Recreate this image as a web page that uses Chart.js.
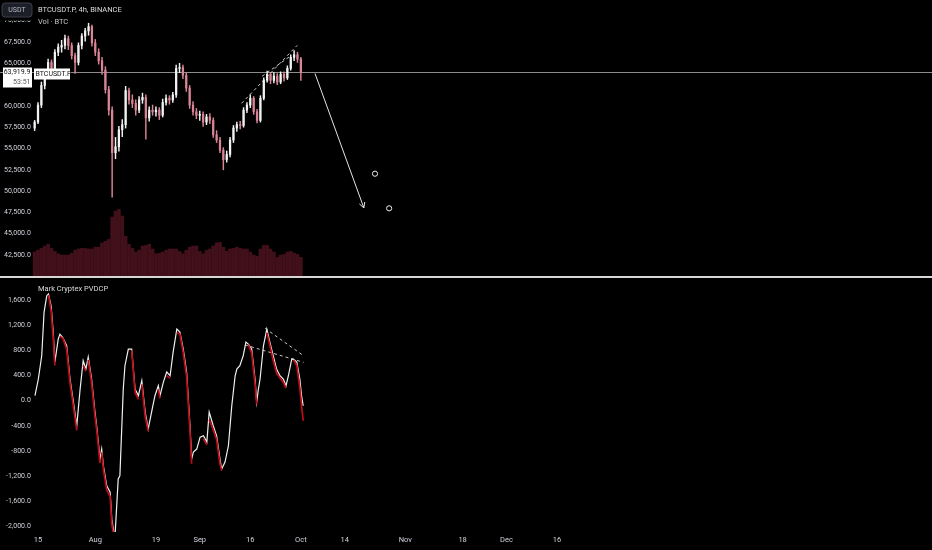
<!DOCTYPE html>
<html>
<head>
<meta charset="utf-8">
<script src="https://cdn.jsdelivr.net/npm/chart.js@4.4.1/dist/chart.umd.min.js"></script>
<style>
    html, body { margin: 0; padding: 0; background: #000; }
    #wrap { position: relative; width: 932px; height: 550px; overflow: hidden; }
    #top { position: absolute; left: 0; top: 0; width: 932px; height: 276px; }
    #sep { position: absolute; left: 0; top: 276px; width: 932px; height: 2px; background: #d6d6d6; }
    #bottom { position: absolute; left: 0; top: 278px; width: 932px; height: 272px; }
</style>
</head>
<body>
<div id="wrap">
    <div id="top"><canvas id="priceChart"></canvas></div>
    <div id="sep"></div>
    <div id="bottom"><canvas id="pvdcpChart"></canvas></div>
</div>
<script>
// day 0 = Jul 15, one candle per day starting Jul 14
const firstCandleDay = -1;
const dateTicks = [0, 17, 35, 48, 63, 78, 91, 109, 126, 139, 154];
const dateLabels = ['15', 'Aug', '19', 'Sep', '16', 'Oct', '14', 'Nov', '18', 'Dec', '16'];
const priceTicks = [70000, 67500, 65000, 62500, 60000, 57500, 55000, 52500, 50000, 47500, 45000, 42500];
const pvdcpTicks = [1600, 1200, 800, 400, 0, -400, -800, -1200, -1600, -2000];

const opens = [57400, 58100, 60100, 62400, 63900, 65100, 64400, 66300, 66900, 67100,
    67900, 67100, 65900, 65100, 67100, 68200, 68800, 69300, 67400, 66300,
    65300, 64200, 61900, 59500, 54500, 55200, 57200, 57800, 61800, 60700,
    60300, 59500, 60700, 61000, 58600, 59500, 59300, 59500, 58900, 60400,
    60900, 60700, 61300, 64400, 64500, 63600, 62100, 60100, 59300, 58900,
    59000, 58100, 58700, 58300, 56600, 56000, 54800, 53700, 54300, 56000,
    57400, 57800, 57700, 59500, 60100, 60900, 59300, 58300, 60900, 63000,
    63700, 63000, 63500, 62800, 63700, 63300, 64400, 65700, 66000, 65500];
const highs = [58300, 60400, 62800, 64300, 65500, 65400, 66600, 67300, 67700, 68300,
    68200, 67400, 66200, 67400, 68500, 69100, 69700, 69500, 67800, 66700,
    65700, 64600, 62300, 59900, 56300, 57600, 58400, 62300, 62100, 61300,
    60700, 61100, 61500, 61300, 59900, 60100, 59900, 59800, 60800, 61300,
    61200, 61600, 64800, 65000, 64800, 63900, 62400, 60500, 59700, 59400,
    59300, 59000, 59100, 58600, 57100, 56300, 55100, 54700, 56300, 57700,
    58100, 58200, 59800, 60400, 61300, 61100, 59600, 61200, 63300, 64100,
    63900, 63900, 63800, 64000, 64000, 64700, 66000, 66500, 66300, 65700];
const lows = [57100, 57900, 59800, 62000, 63500, 63800, 64100, 65900, 66300, 66700,
    66600, 65500, 63800, 64800, 66700, 67600, 68300, 67000, 65900, 64900,
    63700, 61500, 58900, 49300, 53800, 54700, 56400, 57400, 60200, 59800,
    58900, 59200, 60300, 56100, 58200, 58900, 58800, 58400, 58700, 60100,
    60200, 60400, 61000, 63900, 63200, 61700, 59700, 58900, 58500, 58300,
    57600, 57800, 57900, 56300, 55700, 54500, 52500, 53400, 54000, 55700,
    57000, 57300, 57500, 59200, 59800, 59000, 58000, 58100, 60700, 62800,
    62600, 62700, 62500, 62600, 62900, 63100, 64200, 65300, 65100, 63000];
const closes = [58100, 60100, 62400, 63900, 65100, 64400, 66300, 66900, 67100, 67900,
    67100, 65900, 65100, 67100, 68200, 68800, 69300, 67400, 66300, 65300,
    64200, 61900, 59500, 54500, 55200, 57200, 57800, 61800, 60700, 60300,
    59500, 60700, 61000, 58600, 59500, 59300, 59500, 58900, 60400, 60900,
    60700, 61300, 64400, 64500, 63600, 62100, 60100, 59300, 58900, 59000,
    58100, 58700, 58300, 56600, 56000, 54800, 53700, 54300, 56000, 57400,
    57800, 57700, 59500, 60100, 60900, 59300, 58300, 60900, 63000, 63700,
    63000, 63500, 62800, 63700, 63300, 64400, 65700, 66000, 65500, 63919.9];
// K BTC
const volumes = [40, 43, 46, 50, 53, 46, 41, 37, 35, 35, 35, 38, 43, 45, 46, 46, 45, 45, 48, 48,
    55, 58, 61, 98, 108, 111, 100, 66, 53, 46, 40, 43, 50, 51, 53, 45, 37, 38, 40, 43,
    45, 45, 45, 41, 37, 43, 48, 50, 50, 41, 37, 43, 45, 50, 55, 56, 48, 41, 45, 46,
    48, 46, 45, 45, 40, 35, 33, 45, 51, 51, 45, 40, 31, 35, 36, 40, 41, 38, 36, 31];
const lastPrice = 63919.9;
const countdown = '53:51';

// drawings on the price pane
const channelUpper = [{x: 60.4, y: 60300}, {x: 76.9, y: 67100}];
const channelLower = [{x: 66.5, y: 63480}, {x: 74.8, y: 65820}];
const arrowPath = [{x: 82.2, y: 63800}, {x: 96.7, y: 48030}];
const targetCircles = [{x: 100, y: 52040}, {x: 104.2, y: 47980}];

// Mark Cryptex PVDCP
const pvdcpDays = [-0.9, 0.1, 1.1, 1.8, 2.6, 3.1, 3.9, 4.5, 5.0, 6.0, 6.5, 7.4, 8.5, 9.5, 10.5, 11.5,
    12.5, 13.4, 14.2, 14.9, 15.9, 16.9, 17.4, 18.4, 18.9, 19.4, 20.4, 21.4, 21.9, 22.8, 23.8, 24.3,
    25.3, 25.8, 26.8, 27.8, 28.8, 29.8, 30.8, 31.8, 32.7, 33.7, 34.7, 35.7, 36.2, 37.2, 38.2, 39.2,
    40.1, 41.2, 42.1, 43.1, 44.1, 45.1, 45.6, 46.1, 47.1, 48.1, 49.1, 50.1, 50.8, 52.0, 53.0, 54.0,
    54.5, 55.5, 56.5, 57.5, 58.5, 59.0, 59.9, 60.9, 61.7, 62.4, 63.4, 64.4, 64.9, 65.4, 65.9, 66.9,
    67.9, 68.8, 69.8, 70.8, 71.8, 72.8, 73.6, 74.3, 75.3, 75.8, 76.8, 77.7, 78.2, 78.7];
const pvdcpFast = [80, 345, 715, 1408, 1667, 1694, 1500, 1100, 614, 980, 1058, 1000, 873, 345, -20, -397,
    186, 636, 504, 694, 345, -180, -397, -926, -767, -1032, -1350, -1451, -1880, -2200, -1243, -1191,
    186, 556, 821, 821, 186, 80, 318, -180, -450, -180, 80, 238, 80, 296, 456, 397,
    771, 1139, 1090, 821, 456, -397, -926, -815, -767, -578, -556, -656, -180, -397, -556, -926,
    -1085, -974, -715, -80, 397, 503, 556, 715, 932, 900, 821, 345, -20, 186, 345, 873,
    1139, 932, 715, 503, 397, 345, 238, 397, 662, 662, 614, 345, 80, -80];
const pvdcpSlow = [20, 260, 620, 1250, 1560, 1680, 1420, 1000, 560, 900, 1020, 990, 820, 280, -90, -470,
    80, 560, 470, 650, 280, -250, -460, -990, -820, -1090, -1420, -1520, -1960, -2250, -1400, -1250,
    50, 480, 790, 800, 130, 20, 260, -250, -480, -260, 10, 180, 40, 230, 400, 360,
    680, 1080, 1060, 760, 380, -480, -1000, -870, -800, -640, -600, -700, -300, -460, -620, -1000,
    -1110, -1050, -800, -200, 320, 460, 520, 660, 880, 890, 760, 270, -60, 80, 280, 760,
    1080, 880, 640, 440, 360, 290, 200, 320, 600, 650, 560, 200, -80, -318];
const pvdcpTrendA = [{x: 61.5, y: 885}, {x: 78.8, y: 610}];
const pvdcpTrendB = [{x: 67.4, y: 1150}, {x: 78.8, y: 715}];

const xMin = -11.28;
const xMax = 265.3;
const FONT = 'Roboto, "Liberation Sans", sans-serif';
const TEXT = '#d1d4dc';
const upColor = '#f2f2f2';
const downColor = '#d98596';
const RED = '#c00c16';

const fmt = v => v.toLocaleString('en-US', {minimumFractionDigits: 1, maximumFractionDigits: 1});
const candleX = opens.map((_, i) => firstCandleDay + i);
const candleColors = opens.map((o, i) => closes[i] >= o ? upColor : downColor);

function leftAxis(min, max, tickList, pad) {
    return {
        position: 'left', min: min, max: max,
        grid: {display: false, drawTicks: false}, border: {display: false},
        ticks: {mirror: true, crossAlign: 'far', padding: pad, color: TEXT, font: {family: FONT, size: 7}, callback: fmt},
        afterBuildTicks: s => { s.ticks = tickList.map(v => ({value: v})); },
        afterFit: s => { s.width = 0; s.paddingTop = 0; s.paddingBottom = 0; }
    };
}

// price pane overlays: header, price tags, arrow head
const priceOverlay = {
    id: 'priceOverlay',
    afterDatasetsDraw(chart) {
        const ctx = chart.ctx, xs = chart.scales.x, ys = chart.scales.y;
        ctx.save();
        // arrow head
        const x0 = xs.getPixelForValue(arrowPath[0].x), y0 = ys.getPixelForValue(arrowPath[0].y);
        const x1 = xs.getPixelForValue(arrowPath[1].x), y1 = ys.getPixelForValue(arrowPath[1].y);
        const a = Math.atan2(y1 - y0, x1 - x0);
        ctx.strokeStyle = '#e6e6e6';
        ctx.lineWidth = 1;
        ctx.beginPath();
        ctx.moveTo(x1 - 6 * Math.cos(a - 0.5), y1 - 6 * Math.sin(a - 0.5));
        ctx.lineTo(x1, y1);
        ctx.lineTo(x1 - 6 * Math.cos(a + 0.5), y1 - 6 * Math.sin(a + 0.5));
        ctx.stroke();
        ctx.restore();
    },
    afterDraw(chart) {
        const ctx = chart.ctx, ys = chart.scales.y;
        ctx.save();
        // legend strip hides the top half of the 70,000 label
        ctx.fillStyle = '#000';
        ctx.fillRect(0, 0, 36, 20.5);
        // currency box
        ctx.fillStyle = '#1c1f27';
        ctx.strokeStyle = '#3b3f4b';
        ctx.beginPath();
        ctx.roundRect(2, 3, 30, 14, 3);
        ctx.fill();
        ctx.stroke();
        ctx.fillStyle = '#b6bac4';
        ctx.font = '7px ' + FONT;
        ctx.textAlign = 'center';
        ctx.textBaseline = 'middle';
        ctx.fillText('USDT', 17, 10);
        // legend lines
        ctx.textAlign = 'left';
        ctx.fillStyle = '#dcdcdc';
        ctx.font = '7.5px ' + FONT;
        ctx.fillText('BTCUSDT.P, 4h, BINANCE', 38, 10);
        ctx.fillStyle = '#c4c4c4';
        ctx.fillText('Vol · BTC', 38, 22);
        // last price tag
        const py = ys.getPixelForValue(lastPrice);
        ctx.fillStyle = '#ffffff';
        ctx.fillRect(3, py - 5, 29, 20);
        ctx.fillRect(34, py - 4, 36, 11);
        ctx.fillStyle = '#111';
        ctx.textAlign = 'right';
        ctx.font = '7px ' + FONT;
        ctx.fillText(fmt(lastPrice), 30.5, py);
        ctx.fillStyle = '#555';
        ctx.fillText(countdown, 30.5, py + 9.5);
        ctx.fillStyle = '#111';
        ctx.textAlign = 'left';
        ctx.fillText('BTCUSDT.P', 35.5, py + 1.5);
        ctx.restore();
    }
};

new Chart(document.getElementById('priceChart'), {
    type: 'bar',
    data: {
        datasets: [
            {type: 'line', data: arrowPath, borderColor: '#e6e6e6', borderWidth: 1, pointRadius: 0},
            {type: 'line', data: targetCircles, showLine: false, pointRadius: 2.6, pointHoverRadius: 2.6, pointBorderWidth: 1,
                pointBorderColor: '#eeeeee', pointBackgroundColor: '#000'},
            {type: 'line', data: channelUpper, borderColor: 'rgba(235,235,235,0.85)', borderWidth: 1, borderDash: [3, 3], pointRadius: 0},
            {type: 'line', data: channelLower, borderColor: 'rgba(235,235,235,0.85)', borderWidth: 1, borderDash: [3, 3], pointRadius: 0},
            {data: candleX.map((x, i) => ({x: x, y: [opens[i], closes[i]]})), backgroundColor: candleColors,
                barThickness: 1.6, grouped: false},
            {data: candleX.map((x, i) => ({x: x, y: [lows[i], highs[i]]})), backgroundColor: candleColors,
                barThickness: 0.8, grouped: false},
            {type: 'line', data: [{x: xMin, y: lastPrice}, {x: xMax, y: lastPrice}], borderColor: '#8c8c8c',
                borderWidth: 1, pointRadius: 0},
            {data: candleX.map((x, i) => ({x: x, y: volumes[i]})), yAxisID: 'vol', backgroundColor: '#42101a',
                barThickness: 3, grouped: false}
        ]
    },
    options: {
        responsive: true,
        maintainAspectRatio: false,
        animation: false,
        layout: {padding: 0, autoPadding: false},
        plugins: {legend: {display: false}, tooltip: {enabled: false}},
        scales: {
            x: {type: 'linear', min: xMin, max: xMax, offset: false, display: false},
            y: leftAxis(40035, 72430, priceTicks, 4),
            vol: {min: 0, max: 460, display: false}
        }
    },
    plugins: [priceOverlay]
});

const pvdcpTitle = {
    id: 'pvdcpTitle',
    afterDraw(chart) {
        const ctx = chart.ctx;
        ctx.save();
        ctx.fillStyle = '#dcdcdc';
        ctx.font = '7.5px ' + FONT;
        ctx.textBaseline = 'middle';
        ctx.fillText('Mark Cryptex PVDCP', 38, 11);
        ctx.restore();
    }
};

new Chart(document.getElementById('pvdcpChart'), {
    type: 'line',
    data: {
        datasets: [
            // slow line shows red on falling stretches only
            {data: pvdcpDays.map((x, i) => ({x: x, y: pvdcpSlow[i]})), borderColor: RED, borderWidth: 1.7,
                segment: {borderColor: c => c.p1.parsed.y < c.p0.parsed.y ? RED : 'rgba(0,0,0,0)'}},
            {data: pvdcpDays.map((x, i) => ({x: x, y: pvdcpFast[i]})), borderColor: '#f0f0f0', borderWidth: 1.2},
            {data: pvdcpTrendA, borderColor: 'rgba(235,235,235,0.85)', borderWidth: 1, borderDash: [3, 3]},
            {data: pvdcpTrendB, borderColor: 'rgba(235,235,235,0.85)', borderWidth: 1, borderDash: [3, 3]}
        ]
    },
    options: {
        responsive: true,
        maintainAspectRatio: false,
        animation: false,
        layout: {padding: 0, autoPadding: false},
        elements: {point: {radius: 0, hoverRadius: 0}, line: {tension: 0}},
        plugins: {legend: {display: false}, tooltip: {enabled: false}},
        scales: {
            x: {
                type: 'linear', min: xMin, max: xMax,
                grid: {display: false, drawTicks: false}, border: {display: false},
                ticks: {color: TEXT, font: {family: FONT, size: 7.5}, autoSkip: false, maxRotation: 0, padding: 4,
                    callback: (v, i) => dateLabels[i]},
                afterBuildTicks: s => { s.ticks = dateTicks.map(v => ({value: v})); },
                afterFit: s => { s.height = 18; }
            },
            y: leftAxis(-2084, 1949, pvdcpTicks, 6)
        }
    },
    plugins: [pvdcpTitle]
});
</script>
</body>
</html>
